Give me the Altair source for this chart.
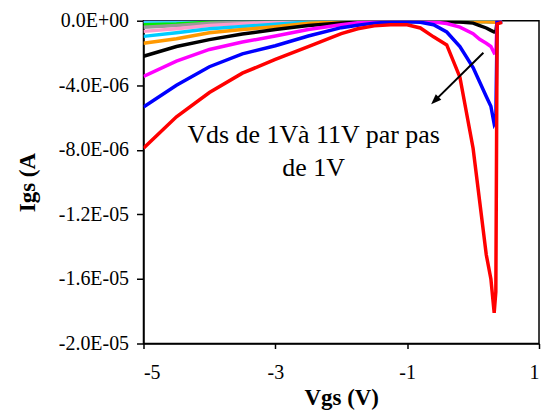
import altair as alt
import pandas as pd

# Gate-source voltage (V)
vgs = [-5.0, -4.5, -4.0, -3.5, -3.0, -2.5, -2.0, -1.75, -1.5, -1.25, -1.0, -0.8,
       -0.6, -0.4, -0.2, 0.0, 0.1, 0.2, 0.27, 0.32, 0.345, 0.365, 0.44]

# Gate current (µA) for Vds = 1V ... 11V
igs_1v = [-0.04, -0.04, -0.04, -0.04, -0.04, -0.04, -0.04, -0.04, -0.04, -0.04, -0.04, -0.04,
          -0.04, -0.04, -0.04, -0.04, -0.04, -0.04, -0.04, -0.04, -0.04, -0.02, -0.02]
igs_2v = [-0.1, -0.09, -0.08, -0.07, -0.06, -0.06, -0.05, -0.05, -0.05, -0.05, -0.05, -0.05,
          -0.05, -0.05, -0.05, -0.05, -0.05, -0.05, -0.05, -0.05, -0.05, -0.02, -0.02]
igs_3v = [-0.25, -0.2, -0.1, -0.08, -0.07, -0.06, -0.05, -0.05, -0.05, -0.05, -0.05, -0.05,
          -0.05, -0.05, -0.05, -0.05, -0.05, -0.05, -0.05, -0.05, -0.05, -0.02, -0.02]
igs_4v = [-0.41, -0.3, -0.16, -0.1, -0.07, -0.05, -0.05, -0.04, -0.04, -0.04, -0.04, -0.04,
          -0.04, -0.04, -0.04, -0.04, -0.04, -0.05, -0.05, -0.05, -0.05, -0.02, -0.02]
igs_5v = [-0.66, -0.5, -0.3, -0.18, -0.1, -0.07, -0.05, -0.04, -0.04, -0.04, -0.04, -0.04,
          -0.04, -0.04, -0.04, -0.04, -0.05, -0.05, -0.05, -0.05, -0.05, -0.02, -0.02]
igs_6v = [-0.97, -0.75, -0.5, -0.36, -0.22, -0.08, -0.05, -0.04, -0.04, -0.04, -0.04, -0.04,
          -0.04, -0.04, -0.04, -0.04, -0.05, -0.05, -0.06, -0.06, -0.06, -0.02, -0.02]
igs_7v = [-1.4, -1.12, -0.75, -0.55, -0.37, -0.16, -0.08, -0.06, -0.05, -0.05, -0.04, -0.04,
          -0.04, -0.04, -0.05, -0.05, -0.06, -0.07, -0.08, -0.1, -0.1, -0.02, -0.02]
igs_8v = [-2.2, -1.6, -1.17, -0.82, -0.55, -0.3, -0.14, -0.1, -0.07, -0.05, -0.04, -0.04,
          -0.05, -0.06, -0.08, -0.15, -0.3, -0.45, -0.6, -0.7, -0.7, -0.03, -0.02]
igs_9v = [-3.45, -2.5, -1.78, -1.32, -0.95, -0.55, -0.25, -0.12, -0.06, -0.04, -0.03, -0.04,
          -0.08, -0.17, -0.4, -0.8, -1.15, -1.4, -1.6, -2.0, -1.95, -0.05, -0.03]
igs_10v = [-5.35, -4.0, -2.85, -2.05, -1.55, -0.95, -0.43, -0.28, -0.15, -0.08, -0.06, -0.1,
           -0.25, -0.7, -1.6, -2.9, -3.8, -4.7, -5.3, -6.4, -6.2, -0.1, -0.05]
igs_11v = [-7.9, -5.95, -4.45, -3.25, -2.4, -1.6, -0.8, -0.5, -0.32, -0.25, -0.25, -0.45,
           -1.0, -1.5, -3.5, -7.9, -11.2, -14.5, -16.0, -18.1, -16.8, -0.2, -0.1]

series_names = ["1V", "2V", "3V", "4V", "5V", "6V", "7V", "8V", "9V", "10V", "11V"]
series_values = [igs_1v, igs_2v, igs_3v, igs_4v, igs_5v, igs_6v, igs_7v, igs_8v,
                 igs_9v, igs_10v, igs_11v]
series_colors = ["#CC99FF", "#33CCFF", "#00EE00", "#999999", "#FF99CC", "#00CCFF",
                 "#FF9900", "#000000", "#FF00FF", "#0000FF", "#FF0000"]

x_ticks = [-5, -3, -1, 1]
y_ticks = [0, -4e-6, -8e-6, -1.2e-5, -1.6e-5, -2e-5]

# Annotation
note_lines = ["Vds de 1Và 11V par pas", "de 1V"]
note_x = [-2.42, -2.42]
note_y = [-7.1e-6, -9.1e-6]
arrow_from = (0.156, -1.98e-6)
arrow_to = (-0.58, -4.95e-6)

rows = []
for k, (name, vals) in enumerate(zip(series_names, series_values)):
    for i, (x, v) in enumerate(zip(vgs, vals)):
        rows.append({"Vds": name, "k": k, "i": i, "Vgs": x, "Igs": v * 1e-6})
df = pd.DataFrame(rows)

xscale = alt.Scale(domain=[-5, 1], nice=False, zero=False)
yscale = alt.Scale(domain=[-2e-5, 0], nice=False, zero=False)

exp = "floor(log(abs(datum.value))/LN10)"
y_label_expr = (
    "datum.value == 0 ? '0.0E+00' : ((datum.value < 0 ? '-' : '') + "
    "format(abs(datum.value) / pow(10, " + exp + "), '.1f') + 'E' + ("
    + exp + " < 0 ? '-' : '+') + (abs(" + exp + ") < 10 ? '0' : '') + abs(" + exp + "))"
)
x_label_expr = "(datum.value < 0 ? '-' : '') + format(abs(datum.value), 'd')"

FONT = "Liberation Serif"

lines = alt.Chart(df).mark_line(strokeWidth=3.5, clip=True).encode(
    x=alt.X("Vgs:Q", scale=xscale,
            axis=alt.Axis(values=x_ticks, labelExpr=x_label_expr, title="Vgs (V)",
                          grid=False, tickSize=5, labelPadding=14, titlePadding=4,
                          labelFontSize=20, titleFontSize=23)),
    y=alt.Y("Igs:Q", scale=yscale,
            axis=alt.Axis(values=y_ticks, labelExpr=y_label_expr, title="Igs (A",
                          grid=False, tickSize=7, labelPadding=8,
                          titleX=-104, titleY=162, titleBaseline="bottom",
                          titleAlign="center", titleAngle=270,
                          labelFontSize=20, titleFontSize=23)),
    color=alt.Color("Vds:N", scale=alt.Scale(domain=series_names, range=series_colors),
                    legend=None),
    order=alt.Order("i:Q"),
    detail="k:Q",
)

arrow_df = pd.DataFrame({"x": [arrow_from[0]], "y": [arrow_from[1]],
                         "x2": [arrow_to[0]], "y2": [arrow_to[1]]})
shaft = alt.Chart(arrow_df).mark_rule(color="black", strokeWidth=2).encode(
    x=alt.X("x:Q", scale=xscale), y=alt.Y("y:Q", scale=yscale), x2="x2:Q", y2="y2:Q")
head = alt.Chart(arrow_df).mark_point(
    shape="M0,-1L-0.75,1L0.75,1Z", filled=True, color="black", opacity=1,
    size=110, angle=225).encode(
    x=alt.X("x2:Q", scale=xscale), y=alt.Y("y2:Q", scale=yscale))

note_df = pd.DataFrame({"x": note_x, "y": note_y, "t": note_lines})
note = alt.Chart(note_df).mark_text(font=FONT, fontSize=26, color="black",
                                    align="center", baseline="middle").encode(
    x=alt.X("x:Q", scale=xscale), y=alt.Y("y:Q", scale=yscale), text="t:N")

chart = alt.layer(lines, shaft, head, note).properties(
    width=397, height=324,
    autosize=alt.AutoSizeParams(type="none"),
    padding={"left": 136, "top": 12, "right": 2, "bottom": 70},
).configure_view(stroke="black", strokeWidth=1.5).configure_axis(
    labelFont=FONT, titleFont=FONT, labelColor="black", titleColor="black",
    domainColor="black", tickColor="black", domainWidth=1.5, tickWidth=1.5,
    titleFontWeight="bold",
)

chart.save("out.html", embed_options={"renderer": "svg", "actions": False})
